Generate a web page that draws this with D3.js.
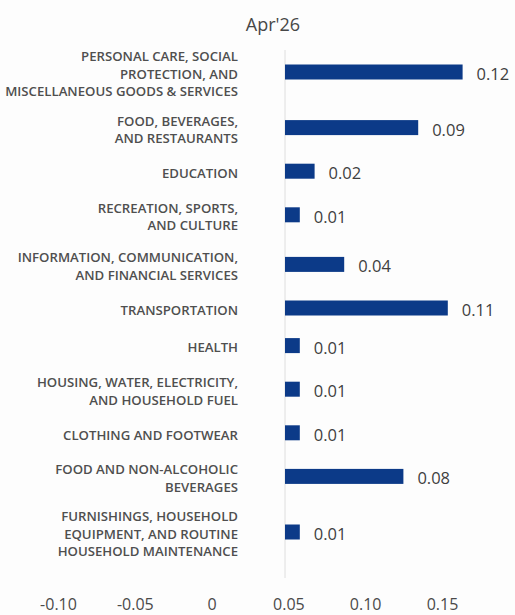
<!DOCTYPE html>
<html>
<head>
<meta charset="utf-8">
<script src="https://cdn.jsdelivr.net/npm/d3@7"></script>
<style>
  html, body { margin: 0; padding: 0; background: #fdfdfd; }
  svg { display: block; }
</style>
</head>
<body>
<svg id="chart" width="515" height="615"></svg>
<script>
// Contribution by category, April 2026
const title = "Apr'26";

// Category labels; "|" marks a line break in the label
const categories = [
  "PERSONAL CARE, SOCIAL|PROTECTION, AND|MISCELLANEOUS GOODS & SERVICES",
  "FOOD, BEVERAGES,|AND RESTAURANTS",
  "EDUCATION",
  "RECREATION, SPORTS,|AND CULTURE",
  "INFORMATION, COMMUNICATION,|AND FINANCIAL SERVICES",
  "TRANSPORTATION",
  "HEALTH",
  "HOUSING, WATER, ELECTRICITY,|AND HOUSEHOLD FUEL",
  "CLOTHING AND FOOTWEAR",
  "FOOD AND NON-ALCOHOLIC|BEVERAGES",
  "FURNISHINGS, HOUSEHOLD|EQUIPMENT, AND ROUTINE|HOUSEHOLD MAINTENANCE"
];

const values = [0.12, 0.09, 0.02, 0.01, 0.04, 0.11, 0.01, 0.01, 0.01, 0.08, 0.01];

const tickValues = [-0.10, -0.05, 0, 0.05, 0.10, 0.15];
const tickLabels = ["-0.10", "-0.05", "0", "0.05", "0.10", "0.15"];

// ---- layout ----
const W = 515, H = 615;
const labelRight = 238;
const labelLineHeight = 17.5;
const rowPad = 25.6, rowPerLine = 12;   // each row grows with its label's line count
const rowsTop = 41.2;
const barHeight = 15;
const barColor = "#0c3a88";
const textColor = "#474747";

const svg = d3.select("#chart");

const lines = categories.map(c => c.split("|"));

// Row centres: stacked rows whose heights follow the label line count
const rowHeights = lines.map(l => rowPad + rowPerLine * l.length);
const rowCenters = [];
let acc = rowsTop;
rowHeights.forEach(h => { rowCenters.push(acc + h / 2); acc += h; });
const y = d3.scaleOrdinal(categories, rowCenters);

// Bar scale (zero line at the vertical rule)
const x = d3.scaleLinear().domain([0, 0.15]).range([285, 285 + 0.15 * 1480]);

// Scale for the tick row beneath the plot
const tickX = d3.scaleLinear().domain([-0.10, 0.15]).range([58, 442]);

// Title
svg.append("text")
  .attr("x", 273)
  .attr("y", 31)
  .attr("text-anchor", "middle")
  .attr("font-family", "'Open Sans', sans-serif")
  .attr("font-size", 18)
  .attr("fill", textColor)
  .text(title);

// Zero rule
svg.append("line")
  .attr("x1", x(0)).attr("x2", x(0))
  .attr("y1", 50).attr("y2", 578)
  .attr("stroke", "#dedede")
  .attr("stroke-width", 1);

// Category labels
const labelG = svg.append("g")
  .attr("font-family", "'Open Sans', sans-serif")
  .attr("font-size", 13.2)
  .attr("font-weight", 600)
  .attr("fill", "#4f4f4f")
  .attr("text-anchor", "end");

categories.forEach((c, i) => {
  const ls = lines[i];
  const t = labelG.append("text");
  ls.forEach((ln, j) => {
    t.append("tspan")
      .attr("x", labelRight)
      .attr("y", y(c) + 2 + (j - (ls.length - 1) / 2) * labelLineHeight)
      .attr("dy", "0.36em")
      .text(ln);
  });
});

// Bars
svg.append("g")
  .selectAll("rect")
  .data(values)
  .join("rect")
  .attr("x", x(0))
  .attr("y", (d, i) => y(categories[i]) - barHeight / 2)
  .attr("width", d => x(d) - x(0))
  .attr("height", barHeight)
  .attr("fill", barColor);

// Value labels
svg.append("g")
  .attr("font-family", "'Open Sans', sans-serif")
  .attr("font-size", 16.5)
  .attr("fill", "#3f3f3f")
  .selectAll("text")
  .data(values)
  .join("text")
  .attr("x", d => x(d) + 14)
  .attr("y", (d, i) => y(categories[i]) + 2)
  .attr("dy", "0.36em")
  .text(d => d.toFixed(2));

// Bottom tick row
const axis = d3.axisBottom(tickX)
  .tickValues(tickValues)
  .tickFormat((d, i) => tickLabels[i])
  .tickSize(0)
  .tickPadding(3);

const axisG = svg.append("g")
  .attr("transform", "translate(0,596)")
  .call(axis);
axisG.select(".domain").remove();
axisG.selectAll("text")
  .attr("font-family", "'Open Sans', sans-serif")
  .attr("font-size", 16)
  .attr("fill", "#4a4a4a");
</script>
</body>
</html>
